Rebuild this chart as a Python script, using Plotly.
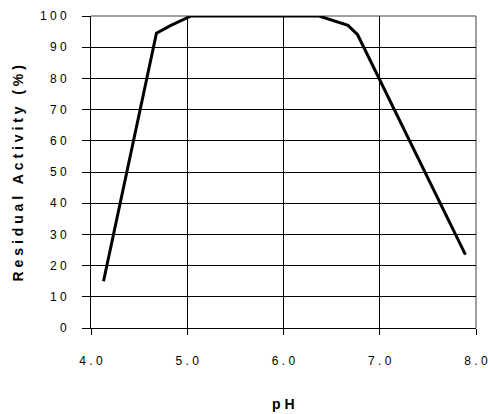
import plotly.graph_objects as go

# Data
ph = [4.13, 4.68, 4.83, 5.04, 6.37, 6.67, 6.77, 7.89]
activity = [15, 94.5, 97, 100, 100, 97, 94, 23.5]

y_ticks = [0, 10, 20, 30, 40, 50, 60, 70, 80, 90, 100]
x_ticks = [4.0, 5.0, 6.0, 7.0, 8.0]

NB = "\u00a0"

def spaced(s, word_gap=1):
    out = []
    for ch in s:
        out.append(NB * word_gap if ch == " " else ch)
    return NB.join(out)

y_ticktext = [spaced(str(v)) for v in y_ticks]
x_ticktext = [spaced(f"{v:.1f}") for v in x_ticks]

y_title = spaced("Residual Activity (%)")
x_title = spaced("pH")

FONT = "Liberation Sans, Arial, sans-serif"

fig = go.Figure()
fig.add_trace(go.Scatter(
    x=ph, y=activity, mode="lines",
    line=dict(color="black", width=3),
    showlegend=False, hoverinfo="skip",
))

fig.update_layout(
    width=488, height=414,
    margin=dict(l=91, r=12, t=16, b=86, autoexpand=False),
    paper_bgcolor="white", plot_bgcolor="white",
    font=dict(family=FONT, size=12, color="black"),
    xaxis=dict(
        range=[4, 8], tickvals=x_ticks, ticktext=x_ticktext,
        showgrid=True, gridcolor="black", gridwidth=1,
        showline=True, linecolor="black", linewidth=1,
        ticks="outside", ticklen=6, tickcolor="black", tickwidth=1,
        ticklabelstandoff=16, zeroline=False, automargin=False,
        tickfont=dict(family=FONT, size=12, color="black"),
    ),
    yaxis=dict(
        range=[0, 100], tickvals=y_ticks, ticktext=y_ticktext,
        showgrid=True, gridcolor="black", gridwidth=1,
        showline=True, linecolor="black", linewidth=1,
        ticks="outside", ticklen=8, tickcolor="black", tickwidth=1,
        ticklabelstandoff=13, zeroline=False, automargin=False,
        tickfont=dict(family=FONT, size=12, color="black"),
    ),
    shapes=[
        dict(type="line", xref="paper", yref="paper", x0=0, x1=1, y0=1, y1=1,
             line=dict(color="#808080", width=1.5), layer="between"),
        dict(type="line", xref="paper", yref="paper", x0=1, x1=1, y0=0, y1=1,
             line=dict(color="#808080", width=1.5), layer="between"),
    ],
    annotations=[
        dict(text="<b>" + y_title + "</b>", xref="paper", yref="paper",
             x=-0.19, y=0.495, xanchor="center", yanchor="middle",
             textangle=-90, showarrow=False,
             font=dict(family=FONT, size=14, color="black")),
        dict(text="<b>" + x_title + "</b>", xref="paper", yref="paper",
             x=0.5, y=-0.244, xanchor="center", yanchor="middle",
             showarrow=False,
             font=dict(family=FONT, size=14, color="black")),
    ],
)

fig.write_html(
    "out.html",
    config={"displayModeBar": False, "staticPlot": True},
    post_script="document.body.style.margin='0';document.body.style.overflow='hidden';",
)
